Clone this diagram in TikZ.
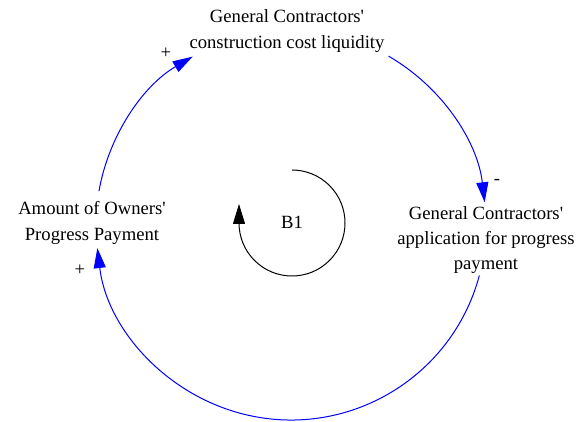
\documentclass[tikz,border=0pt]{standalone}
\usepackage{fontspec}
\setmainfont{Liberation Serif}
\usetikzlibrary{arrows.meta,calc}
\begin{document}
\begin{tikzpicture}[x=0.75pt,y=0.75pt,
  lbl/.style={align=center,font=\fontsize{14}{19}\selectfont,inner sep=0pt},
  pol/.style={font=\fontsize{14}{16}\selectfont,inner sep=0pt},
  link/.style={draw=blue,line width=0.75pt,-{Triangle[length=15pt,width=9pt,fill=blue]}},
  loopmark/.style={draw=black,line width=0.75pt,-{Triangle[length=15pt,width=9pt]}}]
\useasboundingbox (0,0) rectangle (588,421);
\coordinate (C) at (291,196);
\node[lbl] (liq) at (287,390) {General Contractors\textquotesingle\\construction cost liquidity};
\node[lbl] (app) at (486,181) {General Contractors\textquotesingle\\application for progress\\payment};
\node[lbl] (own) at (92,198) {Amount of Owners\textquotesingle\\Progress Payment};
\coordinate (s1) at ($(C)+(60:195)$);
\coordinate (s2) at ($(C)+(-15:195)$);
\coordinate (s3) at ($(C)+(170:195)$);
\draw[link] (s1) arc[start angle=60, end angle=6.7, radius=195];
\draw[link] (s2) arc[start angle=-15, end angle=-173.2, radius=195];
\draw[link] (s3) arc[start angle=170, end angle=120.3, radius=195];
\node[pol] (p1) at (166,368) {+};
\node[pol] (p2) at (497,239) {-};
\node[pol] (p3) at (80,151) {+};
\coordinate (lc) at (292,198);
\coordinate (ls) at ($(lc)+(90:53)$);
\draw[loopmark] (ls) arc[start angle=90, end angle=-180, radius=53] -- ++(0,19);
\node[lbl] (b1) at (292,199) {B1};
\end{tikzpicture}
\end{document}
